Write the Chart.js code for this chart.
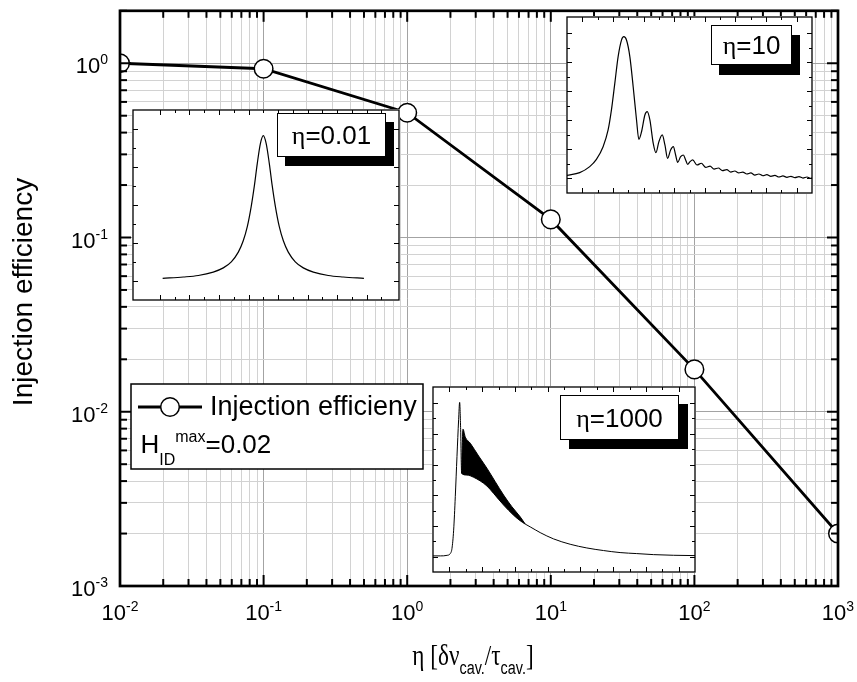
<!DOCTYPE html>
<html>
<head>
<meta charset="utf-8">
<script src="https://cdn.jsdelivr.net/npm/chart.js@4.4.1/dist/chart.umd.min.js"></script>
<style>
  html, body { margin: 0; padding: 0; background: #fff; }
  #wrap { position: relative; width: 857px; height: 682px; overflow: hidden; }
  #wrap canvas { position: absolute; }
</style>
</head>
<body>
<div id="wrap">
  <canvas id="main" width="857" height="682" style="left:0;top:0"></canvas>
  <canvas id="insetLow" width="268" height="192" style="left:132px;top:109px"></canvas>
  <canvas id="insetMid" width="247" height="178" style="left:566px;top:16px"></canvas>
  <canvas id="insetHigh" width="264" height="187" style="left:432px;top:386px"></canvas>
</div>
<script>
// ---- Main curve: injection efficiency versus eta ----
const etaValues  = [0.01, 0.1, 1, 10, 100, 1000];
const efficiency = [1.0, 0.93, 0.52, 0.127, 0.0175, 0.0020];

// decade ticks and their exponent labels
const xDecades = [0.01, 0.1, 1, 10, 100, 1000];
const xExponents = ['-2', '-1', '0', '1', '2', '3'];
const yDecades = [0.001, 0.01, 0.1, 1];
const yExponents = ['-3', '-2', '-1', '0'];

// ---- Inset spectra (arbitrary units) ----
// eta = 0.01 : single resonance
const lowX = [-8.18, -6.5, -5.28, -4.07, -3.25, -2.6, -2.03, -1.63, -1.3, -0.98, -0.73, -0.49, -0.24, 0,
              0.24, 0.49, 0.73, 0.98, 1.3, 1.63, 2.03, 2.6, 3.25, 4.07, 5.28, 6.5, 8.18];
const lowY = [0.114, 0.121, 0.129, 0.147, 0.169, 0.201, 0.252, 0.312, 0.386, 0.493, 0.599, 0.718, 0.822, 0.865,
              0.822, 0.718, 0.599, 0.493, 0.386, 0.312, 0.252, 0.201, 0.169, 0.147, 0.129, 0.121, 0.114];

// eta = 10 : main peak followed by decaying ringing
const midX = [0, 5.18, 9.28, 12.0, 14.73, 16.78, 18.14, 19.51, 20.87, 22.24, 23.19, 24.28, 25.65, 27.01, 28.38,
              29.33, 30.42, 31.79, 32.74, 33.83, 35.2, 36.29, 37.52, 38.88, 39.97, 41.06, 42.29, 43.38, 44.34,
              45.16, 46.38, 47.48, 48.43, 49.25, 50.2, 51.3, 53.07, 54.84, 56.62, 58.39, 60.03, 61.8, 63.44,
              65.21, 66.85, 68.49, 70.12, 71.76, 73.4, 75.03, 76.67, 78.31, 79.95, 81.58, 83.22, 84.86, 86.49,
              88.13, 89.77, 91.41, 93.04, 94.68, 96.32, 97.95, 99.59, 100];
const midY = [0.100, 0.116, 0.150, 0.191, 0.263, 0.358, 0.472, 0.623, 0.775, 0.869, 0.888, 0.869, 0.775, 0.604, 0.415,
              0.305, 0.348, 0.443, 0.462, 0.415, 0.282, 0.229, 0.292, 0.330, 0.273, 0.197, 0.244, 0.263, 0.216,
              0.174, 0.206, 0.216, 0.188, 0.163, 0.178, 0.188, 0.159, 0.169, 0.146, 0.153, 0.136, 0.142, 0.127,
              0.133, 0.119, 0.125, 0.114, 0.119, 0.108, 0.114, 0.102, 0.108, 0.098, 0.104, 0.095, 0.100, 0.091,
              0.097, 0.089, 0.095, 0.087, 0.093, 0.085, 0.091, 0.083, 0.087];

// eta = 1000 : sharp onset, fast oscillating band, slow decay
const highX = [0, 2.8, 5.34, 6.61, 7.24, 7.88, 8.51, 9.15, 9.78, 10.17, 10.55, 10.93,
               12.96, 15.5, 18.04, 20.58, 23.13, 26.94, 30.75, 33.29, 35.2,
               37.1, 40.91, 46.0, 52.35, 58.7, 65.06, 71.41, 77.76, 84.12, 91.74, 100];
const highY = [0.087, 0.087, 0.090, 0.100, 0.127, 0.226, 0.407, 0.624, 0.823, 0.917, 0.769, 0.533,
               0.524, 0.512, 0.492, 0.465, 0.425, 0.362, 0.307, 0.277, 0.259,
               0.244, 0.213, 0.179, 0.150, 0.130, 0.116, 0.105, 0.0995, 0.094, 0.0904, 0.0886];
const bandX = [10.93, 11.44, 12.33, 14.23, 17.41, 20.58, 23.76, 26.94, 30.11, 33.29, 35.2];
const bandY = [0.533, 0.772, 0.729, 0.696, 0.627, 0.561, 0.488, 0.416, 0.353, 0.298, 0.259];

const SANS = '"Liberation Sans", Arial, sans-serif';
const SERIF = '"Liberation Serif", "Times New Roman", serif';

const pairs = (xs, ys) => xs.map((x, i) => ({ x, y: ys[i] }));
const isDecade = v => Math.abs(Math.log10(v) - Math.round(Math.log10(v))) < 1e-9;

// minor grid values 1..9 x 10^n between the decades
function logGrid(decades) {
  const out = [];
  for (let i = 0; i < decades.length - 1; i++) {
    for (let m = 1; m <= 9; m++) out.push(m * decades[i]);
  }
  out.push(decades[decades.length - 1]);
  return out;
}

// draws a row of text runs (with optional sub/superscript offsets)
function drawRuns(ctx, runs, x, baseline, align, sx) {
  sx = sx || 1;
  ctx.save();
  ctx.textAlign = 'left';
  ctx.textBaseline = 'alphabetic';
  let w = 0;
  runs.forEach(r => { ctx.font = r.font; r.w = ctx.measureText(r.t).width; w += r.w; });
  const start = align === 'center' ? x - w * sx / 2 : align === 'right' ? x - w * sx : x;
  ctx.translate(start, baseline);
  ctx.scale(sx, 1);
  let cx = 0;
  runs.forEach(r => { ctx.font = r.font; ctx.fillText(r.t, cx, r.dy || 0); cx += r.w; });
  ctx.restore();
}

function seg(ctx, x1, y1, x2, y2) {
  ctx.beginPath(); ctx.moveTo(x1, y1); ctx.lineTo(x2, y2); ctx.stroke();
}

// frame, inward ticks, tick labels, axis titles and legend box of the main plot
const mainDecor = {
  id: 'mainDecor',
  afterDraw(chart) {
    const { ctx, chartArea: a, scales: { x, y } } = chart;
    ctx.save();
    ctx.strokeStyle = '#000';
    ctx.fillStyle = '#000';
    ctx.lineWidth = 2;
    x.ticks.forEach(t => {
      const p = x.getPixelForValue(t.value);
      const len = isDecade(t.value) ? 11 : 7;
      seg(ctx, p, a.bottom, p, a.bottom - len);
      seg(ctx, p, a.top, p, a.top + len);
    });
    y.ticks.forEach(t => {
      const p = y.getPixelForValue(t.value);
      const len = isDecade(t.value) ? 11 : 7;
      seg(ctx, a.left, p, a.left + len, p);
      seg(ctx, a.right, p, a.right - len, p);
    });
    ctx.lineWidth = 2.7;
    ctx.strokeRect(a.left, a.top, a.right - a.left, a.bottom - a.top);

    // tick labels 10^n
    xDecades.forEach((v, i) => {
      const p = x.getPixelForValue(v);
      drawRuns(ctx, [{ t: '10', font: '22px ' + SANS }, { t: xExponents[i], font: '14px ' + SANS, dy: -9.5 }],
        p, a.bottom + 34, 'center');
    });
    yDecades.forEach((v, i) => {
      const p = y.getPixelForValue(v);
      drawRuns(ctx, [{ t: '10', font: '22px ' + SANS }, { t: yExponents[i], font: '14px ' + SANS, dy: -9 }],
        a.left - 12, p + 10, 'right');
    });

    // axis titles
    drawRuns(ctx, [
      { t: 'η [δν', font: '29px ' + SERIF },
      { t: 'cav.', font: '18px ' + SANS, dy: 9 },
      { t: '/τ', font: '29px ' + SERIF },
      { t: 'cav.', font: '18px ' + SANS, dy: 9 },
      { t: ']', font: '29px ' + SERIF }
    ], 473, 665, 'center', 0.8);

    ctx.save();
    ctx.translate(32, 292);
    ctx.rotate(-Math.PI / 2);
    ctx.font = '28px ' + SANS;
    ctx.textAlign = 'center';
    ctx.textBaseline = 'alphabetic';
    ctx.fillText('Injection efficiency', 0, 0);
    ctx.restore();

    // legend box
    const L = { left: 131, top: 384, right: 423, bottom: 469 };
    ctx.fillStyle = '#fff';
    ctx.fillRect(L.left, L.top, L.right - L.left, L.bottom - L.top);
    ctx.lineWidth = 1.5;
    ctx.strokeRect(L.left, L.top, L.right - L.left, L.bottom - L.top);
    const ds = chart.data.datasets[0];
    ctx.lineWidth = ds.borderWidth;
    seg(ctx, 138, 407, 202, 407);
    ctx.beginPath();
    ctx.arc(170, 407, ds.pointRadius, 0, Math.PI * 2);
    ctx.fillStyle = '#fff';
    ctx.fill();
    ctx.lineWidth = ds.pointBorderWidth;
    ctx.stroke();
    ctx.fillStyle = '#000';
    drawRuns(ctx, [{ t: ds.label, font: '27px ' + SANS }], 210, 415, 'left');
    drawRuns(ctx, [
      { t: 'H', font: '26px ' + SANS },
      { t: 'ID', font: '16px ' + SANS, dy: 12 },
      { t: 'max', font: '16px ' + SANS, dy: -11.5 },
      { t: '=0.02', font: '26px ' + SANS }
    ], 140.5, 453, 'left');
    ctx.restore();
  }
};

new Chart(document.getElementById('main'), {
  type: 'line',
  data: {
    datasets: [{
      label: 'Injection efficieny',
      data: pairs(etaValues, efficiency),
      borderColor: '#000',
      borderWidth: 2.8,
      pointRadius: 9.3,
      pointHoverRadius: 9.3,
      pointBorderWidth: 1.5,
      pointBackgroundColor: '#fff',
      pointBorderColor: '#000',
      tension: 0,
      clip: 1
    }]
  },
  options: {
    responsive: false,
    devicePixelRatio: 1,
    animation: false,
    events: [],
    layout: { padding: { left: 120, top: 5, right: 19, bottom: 96 } },
    plugins: { legend: { display: false }, tooltip: { enabled: false } },
    scales: {
      x: {
        type: 'logarithmic', min: 0.01, max: 1000,
        afterBuildTicks: s => { s.ticks = logGrid(xDecades).map(v => ({ value: v })); },
        ticks: { display: false },
        border: { display: false },
        grid: { drawTicks: false, lineWidth: 1,
                color: c => (c.tick && isDecade(c.tick.value)) ? '#a3a3a3' : '#d2d2d2' }
      },
      y: {
        type: 'logarithmic', min: 0.001, max: 2,
        afterBuildTicks: s => { s.ticks = logGrid(yDecades).concat([2]).map(v => ({ value: v })); },
        ticks: { display: false },
        border: { display: false },
        grid: { drawTicks: false, lineWidth: 1,
                color: c => (c.tick && isDecade(c.tick.value)) ? '#a3a3a3' : '#d2d2d2' }
      }
    }
  },
  plugins: [mainDecor]
});

// white panel, inward ticks and shadowed label for each inset
const insetDecor = {
  id: 'insetDecor',
  beforeDraw(chart) {
    const { ctx, width, height } = chart;
    ctx.save();
    ctx.fillStyle = '#fff';
    ctx.fillRect(0, 0, width, height);
    ctx.restore();
  },
  afterDraw(chart, args, opts) {
    const { ctx, chartArea: a, scales: { x, y } } = chart;
    ctx.save();
    ctx.strokeStyle = '#000';
    ctx.lineWidth = 1;
    x.ticks.forEach((t, i) => {
      const p = Math.round(x.getPixelForValue(t.value)) + 0.5;
      if (p <= a.left + 2 || p >= a.right - 2) return;
      const len = i % 2 ? 5 : 3;
      seg(ctx, p, a.bottom, p, a.bottom - len);
      seg(ctx, p, a.top, p, a.top + len);
    });
    y.ticks.forEach((t, i) => {
      const p = Math.round(y.getPixelForValue(t.value)) + 0.5;
      if (p <= a.top + 2 || p >= a.bottom - 2) return;
      const len = i % 2 ? 5 : 3;
      seg(ctx, a.left, p, a.left + len, p);
      seg(ctx, a.right, p, a.right - len, p);
    });
    ctx.lineWidth = 1.3;
    ctx.strokeRect(a.left, a.top, a.right - a.left, a.bottom - a.top);

    const b = opts.box;
    const bx = a.left + b.left, by = a.top + b.top;
    ctx.fillStyle = '#000';
    ctx.fillRect(bx + b.dx, by + b.dy, b.w, b.h);
    ctx.fillStyle = '#fff';
    ctx.fillRect(bx, by, b.w, b.h);
    ctx.lineWidth = 1;
    ctx.strokeRect(bx + 0.5, by + 0.5, b.w - 1, b.h - 1);
    ctx.fillStyle = '#000';
    drawRuns(ctx, [{ t: 'η', font: '26px ' + SERIF }, { t: '=' + opts.label, font: '26px ' + SANS }],
      bx + b.w / 2, by + b.h / 2 + 9, 'center');
    ctx.restore();
  }
};

function inset(id, datasets, xr, yr, box, label) {
  return new Chart(document.getElementById(id), {
    type: 'line',
    data: { datasets },
    options: {
      responsive: false,
      devicePixelRatio: 1,
      animation: false,
      events: [],
      layout: { padding: 1 },
      plugins: { legend: { display: false }, tooltip: { enabled: false }, insetDecor: { box, label } },
      elements: { point: { radius: 0 } },
      scales: {
        x: { type: 'linear', min: xr[0], max: xr[1], ticks: { display: false, stepSize: xr[2] },
             grid: { display: false, drawTicks: false }, border: { display: false } },
        y: { type: 'linear', min: yr[0], max: yr[1], ticks: { display: false, stepSize: yr[2] },
             grid: { display: false, drawTicks: false }, border: { display: false } }
      }
    },
    plugins: [insetDecor]
  });
}

const trace = (xs, ys, extra) => Object.assign({
  data: pairs(xs, ys), borderColor: '#000', borderWidth: 1.2, fill: false,
  cubicInterpolationMode: 'monotone', pointRadius: 0
}, extra || {});

inset('insetLow', [trace(lowX, lowY)],
  [-10.59, 11.03, 1.2], [0, 1, 0.1],
  { left: 144, top: 3, w: 109, h: 44, dx: 8, dy: 9 }, '0.01');

inset('insetMid', [trace(midX, midY)],
  [0, 100, 6.25], [0, 1, 0.0825],
  { left: 144, top: 8, w: 81, h: 40, dx: 8, dy: 10 }, '10');

inset('insetHigh', [
    trace(highX, highY, { borderWidth: 1 }),
    trace(bandX, bandY, { borderWidth: 1, fill: { target: 0 }, backgroundColor: '#000' })
  ],
  [0, 100, 6.25], [0, 1, 0.083],
  { left: 127, top: 8, w: 119, h: 45, dx: 9, dy: 9 }, '1000');
</script>
</body>
</html>
